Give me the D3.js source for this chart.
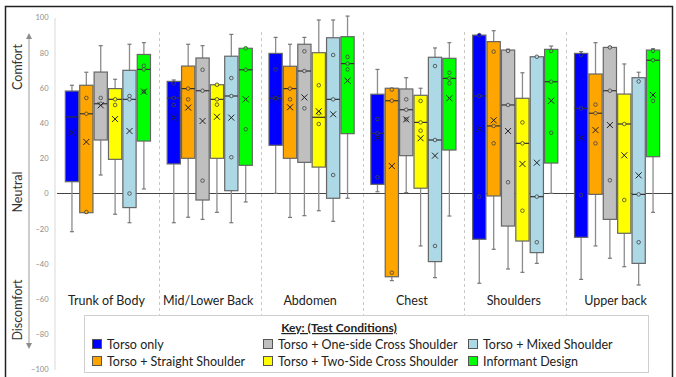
<!DOCTYPE html>
<html>
<head>
<meta charset="utf-8">
<script src="https://cdn.jsdelivr.net/npm/d3@7"></script>
<style>
  body { margin: 0; background: #fff; }
  svg { display: block; font-family: Lato, "Open Sans", sans-serif; }
</style>
</head>
<body>
<svg id="chart" width="676" height="377"></svg>
<script>
// categories and series
let categories = ['Trunk of Body', 'Mid/Lower Back', 'Abdomen', 'Chest', 'Shoulders', 'Upper back'];
let seriesNames = ['Torso only', 'Torso + Straight Shoulder', 'Torso + One-side Cross Shoulder',
                   'Torso + Two-Side Cross Shoulder', 'Torso + Mixed Shoulder', 'Informant Design'];
let seriesColors = ['#0000ff', '#ffa500', '#bfbfbf', '#ffff00', '#add8e6', '#00ff00'];
let yTicks = [-100, -80, -60, -40, -20, 0, 20, 40, 60, 80, 100];

// one row per series, one value per category
let whiskerLow = [
    [-21.7, -16.6, 0.1, 1, -51, -48.8],
    [-11, -13.5, -13.6, -49.5, -31.7, -29.8],
    [10.5, -14.7, -12.6, 0.5, -42.9, -36.8],
    [-11.8, -10.7, -9.8, -29.8, -44.8, -41.6],
    [-16.6, -16.6, -15.8, -47.8, -39.7, -52],
    [2.6, -4.8, -2.7, -12.8, 0.1, -10.7]
];
let q1 = [
    [6.7, 16.8, 27.4, 5.2, -26, -24.9],
    [-10.9, 20, 20, -47.3, -1.4, -0.5],
    [30.4, -3.7, 17.7, 21.5, -18.5, -14.7],
    [19.4, 20, 15, 3, -27, -22.6],
    [-8, 1.6, -2.7, -38.7, -33.6, -39.7],
    [29.8, 16, 34, 24.7, 17.3, 20.9]
];
let medians = [
    [43.5, 54.3, 54.1, 34.2, 55.4, 48.4],
    [45.3, 59.6, 59.6, 52.7, 38.4, 45.6],
    [51, 58.4, 69.6, 47.6, 50.3, 58.4],
    [53.5, 53.5, 43.3, 40.4, 28.5, 39.5],
    [53.5, 55.4, 53.5, 30.4, -1.8, -0.5],
    [70.5, 70.3, 73.8, 65.4, 63.5, 75.7]
];
let q3 = [
    [58.2, 63.7, 79.6, 56.4, 90, 79.6],
    [61.5, 72.4, 72.3, 59.8, 86.3, 67.9],
    [69, 77, 84.8, 59.4, 81.5, 83],
    [59.6, 61.8, 80, 55.8, 54.1, 56.5],
    [70, 78, 88.5, 77.4, 77.7, 65.8],
    [79, 82.5, 89.1, 76.8, 81.9, 81.5]
];
let whiskerHigh = [
    [61.5, 64.5, 88.7, 70.5, 90, 80.6],
    [68.9, 84.8, 84.8, 59.8, 92.5, 85.7],
    [84, 84, 88.7, 65.8, 82, 83.5],
    [64.9, 62, 98.6, 59.8, 68.6, 73.6],
    [84.8, 90.4, 98.6, 82.7, 77.7, 68.9],
    [85.7, 82.5, 100.8, 85.7, 83.8, 82.3]
];
let means = [
    [34.6, 43.1, 54.1, 31.7, 36.8, 31.7],
    [29.3, 48.8, 49, 15.6, 41.6, 36],
    [50.1, 41.2, 54.6, 42.1, 35.5, 38.9],
    [42.3, 43.6, 46.7, 31.4, 16.8, 21.7],
    [35.5, 43.1, 45, 21.5, 17.5, 10.3],
    [57.9, 53.5, 64.1, 54.1, 52.7, 56]
];
let points = [
    [[], [62.6, 54.3, 50.3], [70.5, 54.1], [42.3, 34.2, 9.2], [90, 55.4, -1.8], [78.7, 48.4, -0.9]],
    [[54.3, 45.3, -10.5], [59.6, 53.5], [59.6, 53.5], [59, 52.7, -45], [80.6, 38.4, 28.5], [50.5, 45.6, 28.5]],
    [[54.3, 51], [70.3, 58.4, 7.3], [80.8, 69.6, 48.4], [53.5, 47.6, 42.1], [81, 50.3, 6.4], [83, 58.4, 7.5]],
    [[53.5, 50.3], [61.8, 53.5, 50.5], [61.5, 45.6, 39.5], [52.6, 40.4, 35.7], [40.4, 28.5, -9.8], [39.5, -3.7]],
    [[55.4, 53.5, 0], [65.6, 55.4, 20.6], [78.7, 53.5, 10.5], [72.4, 30.4, -29.8], [77.7, -1.8, -27.7], [63.7, -0.5, -27.7]],
    [[72.6, 70.5, 57.9], [82.5, 70.3, 36.5], [77.6, 73.8, 70.5], [68.6, 65.4, 62.6], [81, 63.5, 34.5], [81, 75.7, 52.6]]
];

// build box records from the arrays
let boxes = [];
seriesNames.forEach(function(s, i){
    categories.forEach(function(c, j){
        boxes.push({series: i, cat: c, lo: whiskerLow[i][j], q1: q1[i][j], med: medians[i][j],
            q3: q3[i][j], hi: whiskerHigh[i][j], mean: means[i][j], pts: points[i][j]});
    });
});

let svg = d3.select('#chart');

let x = d3.scaleBand()
    .domain(categories)
    .range([57, 668])
    .padding(0);

let xInner = d3.scaleBand()
    .domain(d3.range(seriesNames.length))
    .range([0, x.bandwidth()])
    .paddingInner(0.08)
    .paddingOuter(0.58);

let y = d3.scaleLinear()
    .domain([-100, 100])
    .range([369.5, 17.5]);

// outer frame
svg.append('rect')
    .attr('x', 5.5).attr('y', 6.5)
    .attr('width', 667).attr('height', 380)
    .attr('fill', 'none')
    .attr('stroke', '#222')
    .attr('stroke-width', 1.5);

// y axis: light line + gray labels
let yAxis = d3.axisLeft(y)
    .tickValues(yTicks)
    .tickSize(0)
    .tickPadding(6);

let yG = svg.append('g')
    .attr('transform', 'translate(54.5,0)')
    .call(yAxis);
yG.select('.domain').attr('stroke', '#d9d9d9');
yG.selectAll('text')
    .attr('fill', '#8c8c8c')
    .attr('font-size', 7.5)
    .attr('font-family', 'Lato, sans-serif');

// category dividers
svg.selectAll('.divider')
    .data(categories.slice(1))
    .enter()
    .append('line')
    .attr('class', 'divider')
    .attr('x1', function(d){ return Math.round(x(d)) + 0.5; })
    .attr('x2', function(d){ return Math.round(x(d)) + 0.5; })
    .attr('y1', 32)
    .attr('y2', 370)
    .attr('stroke', '#c8c8c8')
    .attr('stroke-dasharray', '3,3');

// zero line
svg.append('line')
    .attr('x1', 57).attr('x2', 672)
    .attr('y1', y(0)).attr('y2', y(0))
    .attr('stroke', '#444')
    .attr('stroke-width', 1);

// left side labels with the arrow
let defs = svg.append('defs');
defs.append('marker')
    .attr('id', 'arrow')
    .attr('viewBox', '0 0 10 10')
    .attr('refX', 5).attr('refY', 5)
    .attr('markerWidth', 6).attr('markerHeight', 6)
    .attr('orient', 'auto-start-reverse')
    .append('path')
    .attr('d', 'M0,0 L10,5 L0,10 z')
    .attr('fill', '#8c8c8c');

svg.append('line')
    .attr('x1', 29).attr('x2', 29)
    .attr('y1', 36).attr('y2', 346)
    .attr('stroke', '#9a9a9a')
    .attr('stroke-width', 1)
    .attr('marker-start', 'url(#arrow)')
    .attr('marker-end', 'url(#arrow)');

let sideLabels = [['Comfort', 67], ['Neutral', 192], ['Discomfort', 310]];
svg.selectAll('.side')
    .data(sideLabels)
    .enter()
    .append('text')
    .attr('class', 'side')
    .attr('transform', function(d){ return `translate(22,${d[1]}) rotate(-90)`; })
    .attr('text-anchor', 'middle')
    .attr('font-size', 12.5)
    .attr('fill', '#333')
    .text(function(d){ return d[0]; });

// category labels
svg.selectAll('.catLabel')
    .data(categories)
    .enter()
    .append('text')
    .attr('class', 'catLabel')
    .attr('x', function(d){ return x(d) + x.bandwidth() / 2 - 1.5; })
    .attr('y', 304.5)
    .attr('text-anchor', 'middle')
    .attr('font-size', 12.5)
    .attr('fill', '#222')
    .text(function(d){ return d; });

// boxes
let g = svg.selectAll('.box')
    .data(boxes)
    .enter()
    .append('g')
    .attr('class', 'box')
    .attr('transform', function(d){ return `translate(${x(d.cat) + xInner(d.series)},0)`; });

let bw = xInner.bandwidth();

// whiskers
g.append('line')
    .attr('x1', bw / 2).attr('x2', bw / 2)
    .attr('y1', function(d){ return y(d.hi); })
    .attr('y2', function(d){ return y(d.lo); })
    .attr('stroke', '#8c8c8c')
    .attr('stroke-width', 1.3);

['lo', 'hi'].forEach(function(k){
    g.append('line')
        .attr('x1', bw / 2 - 2).attr('x2', bw / 2 + 2)
        .attr('y1', function(d){ return y(d[k]); })
        .attr('y2', function(d){ return y(d[k]); })
        .attr('stroke', '#777')
        .attr('stroke-width', 1.2);
});

g.append('rect')
    .attr('x', 0)
    .attr('width', bw)
    .attr('y', function(d){ return y(d.q3); })
    .attr('height', function(d){ return y(d.q1) - y(d.q3); })
    .attr('fill', function(d){ return seriesColors[d.series]; })
    .attr('stroke', '#666')
    .attr('stroke-width', 1.2);

g.append('line')
    .attr('x1', 0).attr('x2', bw)
    .attr('y1', function(d){ return y(d.med); })
    .attr('y2', function(d){ return y(d.med); })
    .attr('stroke', '#333')
    .attr('stroke-width', 1.2);

// data points
g.selectAll('circle')
    .data(function(d){ return d.pts.map(function(p){ return {v: p, s: d.series}; }); })
    .enter()
    .append('circle')
    .attr('cx', bw / 2)
    .attr('cy', function(d){ return y(d.v); })
    .attr('r', 1.8)
    .attr('fill', function(d){ return seriesColors[d.s]; })
    .attr('stroke', '#444')
    .attr('stroke-width', 0.8);

// mean markers
g.append('path')
    .attr('d', function(d){
        let cx = bw / 2, cy = y(d.mean), r = 3;
        return `M${cx - r},${cy - r}L${cx + r},${cy + r}M${cx - r},${cy + r}L${cx + r},${cy - r}`;
    })
    .attr('stroke', '#222')
    .attr('stroke-width', 1);

// legend
let legend = svg.append('g');
legend.append('rect')
    .attr('x', 84.5).attr('y', 315.5)
    .attr('width', 564).attr('height', 57)
    .attr('fill', '#fff')
    .attr('stroke', '#cfcfcf');

legend.append('text')
    .attr('x', 339).attr('y', 332)
    .attr('text-anchor', 'middle')
    .attr('font-size', 12)
    .attr('font-weight', 'bold')
    .attr('text-decoration', 'underline')
    .attr('fill', '#222')
    .text('Key: (Test Conditions)');

let legendCols = [92, 263, 468];
let legendRows = [344, 361];
let items = legend.selectAll('.item')
    .data(seriesNames)
    .enter()
    .append('g')
    .attr('class', 'item')
    .attr('transform', function(d, i){
        return `translate(${legendCols[Math.floor(i / 2)]},${legendRows[i % 2]})`;
    });

items.append('rect')
    .attr('x', 0.5).attr('y', -4.5)
    .attr('width', 9).attr('height', 9)
    .attr('fill', function(d, i){ return seriesColors[i]; })
    .attr('stroke', '#555');

items.append('text')
    .attr('x', 15)
    .attr('y', 4.5)
    .attr('font-size', 12.5)
    .attr('fill', '#222')
    .text(function(d){ return d; });
</script>
</body>
</html>
